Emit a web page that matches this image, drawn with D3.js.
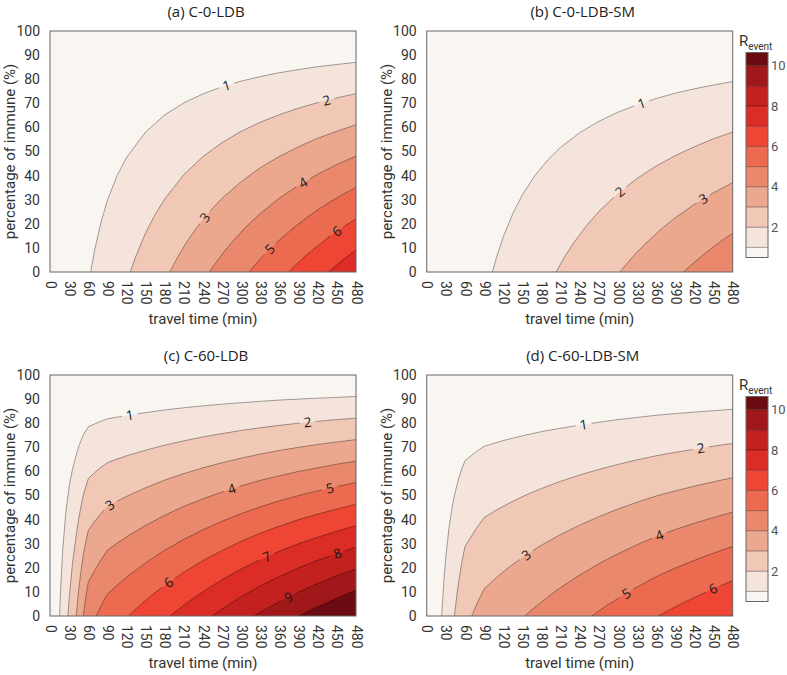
<!DOCTYPE html>
<html><head><meta charset="utf-8">
<script src="https://cdn.jsdelivr.net/npm/d3@7"></script>
<style>body{margin:0;background:#fff}</style>
</head><body><svg id="c" width="787" height="675"></svg>
<script>
// ---------- data ----------
const travelTicks = [0,30,60,90,120,150,180,210,240,270,300,330,360,390,420,450,480];
const immuneTicks = [0,10,20,30,40,50,60,70,80,90,100];
const colorbarTicks = [2,4,6,8,10];
const colorbarEdges = [0.5,1,2,3,4,5,6,7,8,9,10,10.65];
const binColors = ["#f9f5f1","#f5e4dc","#f1c7b5","#eca88e","#ea886d","#ec6a50","#ee4534","#db2c26","#c2211f","#a1181a","#6b0b12"];
const titles = ["(a) C-0-LDB","(b) C-0-LDB-SM","(c) C-60-LDB","(d) C-60-LDB-SM"];

// contour lines: [travel time (min), percentage of immune (%)]
const A1 = [[63.8,0],[70,9.1],[80,20.7],[90,29.7],[105,39.9],[120,47.5],[150,58.1],[180,65.2],[210,70.2],[240,73.9],[270,76.9],[300,79.2],[330,81.1],[360,82.7],[390,84.0],[420,85.2],[450,86.1],[480,87.0]];
const A2 = [[125.9,0],[135,6.8],[150,16.3],[165,23.9],[180,30.3],[210,40.4],[240,47.9],[270,53.7],[300,58.4],[330,62.2],[360,65.3],[390,68.0],[420,70.3],[450,72.3],[480,74.0]];
const A3 = [[188,0],[200,6.1],[215,12.7],[230,18.4],[250,25.0],[270,30.6],[300,37.5],[330,43.3],[360,48.0],[390,52.0],[420,55.5],[450,58.4],[480,61.1]];
const A4 = [[250.1,0],[260,3.8],[275,9.1],[290,13.8],[310,19.4],[330,24.3],[360,30.7],[390,36.0],[420,40.6],[450,44.6],[480,48.1]];
const A5 = [[312.2,0],[325,4.0],[340,8.2],[360,13.3],[380,17.9],[400,22.0],[420,25.8],[440,29.2],[460,32.3],[480,35.1]];
const A6 = [[374.3,0],[385,2.8],[400,6.5],[420,10.9],[440,15.0],[460,18.7],[480,22.1]];
const A7 = [[436.4,0],[450,3.0],[465,6.2],[480,9.1]];
const labelsA = [[1,277],[2,434],[3,243],[4,397],[5,345],[6,450]];

const B1 = [[103,0],[110,6.5],[120,14.5],[135,24.2],[150,32.0],[170,40.1],[190,46.5],[210,51.7],[240,57.8],[270,62.5],[300,66.3],[330,69.4],[360,72.0],[390,74.2],[420,76.0],[450,77.6],[480,79.0]];
const B2 = [[203,0],[215,5.7],[230,11.9],[250,19.0],[270,25.1],[300,32.7],[330,38.8],[360,44.0],[390,48.3],[420,52.0],[450,55.3],[480,58.1]];
const B3 = [[303,0],[315,3.8],[330,8.3],[350,13.5],[370,18.3],[390,22.5],[420,28.1],[450,32.9],[480,37.1]];
const B4 = [[403,0],[415,2.9],[430,6.3],[450,10.5],[465,13.4],[480,16.1]];
const labelsB = [[1,337],[2,303],[3,434]];

const C1 = [[15,0],[17,13.3],[20,27.8],[25,43.5],[30,53.6],[35,60.6],[41,66.7],[45,70.3],[52,75.0],[60,78.5],[70,79.7],[80,80.8],[90,81.8],[105,82.5],[123,83.3],[150,84.4],[180,85.5],[210,86.4],[240,87.2],[270,87.9],[300,88.5],[330,89.1],[360,89.6],[390,90.0],[420,90.4],[450,90.7],[480,91.1]];
const C2 = [[28,0],[30,7.2],[35,21.2],[41,33.3],[45,40.5],[52,50.0],[60,57.0],[70,59.5],[80,61.7],[90,63.6],[105,65.1],[123,66.7],[150,68.8],[180,70.9],[210,72.7],[240,74.3],[270,75.7],[300,77.0],[330,78.1],[360,79.1],[390,80.0],[420,80.8],[450,81.5],[480,82.1]];
const C3 = [[41,0],[45,10.8],[48,17.5],[52,25.0],[56,30.6],[60,35.5],[70,39.2],[80,42.5],[90,45.5],[105,47.6],[123,50.0],[150,53.2],[180,56.4],[210,59.1],[240,61.5],[270,63.6],[300,65.5],[330,67.2],[360,68.7],[390,70.0],[420,71.2],[450,72.2],[480,73.2]];
const C4 = [[52,0],[56,7.5],[60,14.0],[70,18.9],[80,23.3],[90,27.3],[105,30.2],[123,33.3],[150,37.6],[180,41.8],[210,45.5],[240,48.6],[270,51.5],[300,54.0],[330,56.3],[360,58.2],[390,60.0],[420,61.5],[450,63.0],[480,64.3]];
const C5 = [[72.4,0],[80,4.2],[90,9.1],[105,12.7],[123,16.7],[150,22.1],[180,27.3],[210,31.8],[240,35.8],[270,39.3],[300,42.5],[330,45.3],[360,47.8],[390,50.0],[420,51.9],[450,53.7],[480,55.4]];
const C6 = [[123,0],[135,3.0],[150,6.5],[165,9.7],[180,12.8],[210,18.2],[240,23.0],[270,27.2],[300,31.0],[330,34.4],[360,37.3],[390,40.0],[420,42.3],[450,44.4],[480,46.4]];
const C7 = [[188,0],[200,2.5],[215,5.5],[240,10.1],[270,15.1],[300,19.5],[330,23.4],[360,26.9],[390,30.0],[420,32.7],[450,35.2],[480,37.5]];
const C8 = [[254,0],[270,2.9],[285,5.5],[300,8.0],[330,12.5],[360,16.4],[390,20.0],[420,23.1],[450,25.9],[480,28.6]];
const C9 = [[320,0],[340,3.1],[360,6.0],[390,10.0],[420,13.5],[450,16.7],[480,19.6]];
const C10 = [[390,0],[405,2.0],[420,3.8],[450,7.4],[480,10.7]];
const labelsC = [[1,125],[2,404],[3,94],[4,285],[5,439],[6,186],[7,340],[8,451],[9,374]];

const D1 = [[23.5,0],[27,15.0],[30,24.6],[35,36.6],[40,45.4],[43.4,50.0],[50,56.9],[55,61.0],[60,64.4],[70.6,66.7],[80,68.6],[90,70.4],[105,71.6],[120,72.8],[135,73.8],[154,75.0],[180,76.5],[210,77.9],[240,79.2],[270,80.4],[300,81.5],[330,82.4],[360,83.3],[390,84.0],[420,84.6],[450,85.2],[480,85.8]];
const D2 = [[43.4,0],[47,8.1],[50,13.9],[55,22.1],[60,28.8],[70.6,33.3],[80,37.2],[90,40.8],[105,43.3],[120,45.5],[135,47.6],[154,50.0],[180,52.9],[210,55.9],[240,58.5],[270,60.8],[300,62.9],[330,64.8],[360,66.5],[390,67.9],[420,69.2],[450,70.5],[480,71.6]];
const D3 = [[70.6,0],[75,2.8],[80,5.8],[90,11.2],[105,14.9],[120,18.3],[135,21.4],[154,25.0],[180,29.4],[210,33.8],[240,37.7],[270,41.2],[300,44.4],[330,47.2],[360,49.8],[390,51.9],[420,53.9],[450,55.7],[480,57.4]];
const D4 = [[154,0],[165,2.6],[180,5.8],[195,8.9],[210,11.8],[240,17.0],[270,21.7],[300,25.8],[330,29.6],[360,33.0],[390,35.9],[420,38.5],[450,40.9],[480,43.1]];
const D5 = [[259,0],[270,2.1],[285,4.8],[300,7.3],[330,12.0],[360,16.3],[390,19.9],[420,23.1],[450,26.1],[480,28.9]];
const D6 = [[363,0],[375,1.7],[390,3.8],[405,5.8],[420,7.7],[450,11.4],[480,14.7]];
const D7 = [[476,0],[480,0.5]];
const labelsD = [[1,246],[2,430],[3,156],[4,365],[5,313],[6,449]];

// ---------- layout ----------
const W = 306, H = 241;
const panels = [
  {id:"a", title:titles[0], x0:50,    y0:31,  contours:[A1,A2,A3,A4,A5,A6,A7], labels:labelsA, cbar:false},
  {id:"b", title:titles[1], x0:426.7, y0:31,  contours:[B1,B2,B3,B4], labels:labelsB, cbar:true},
  {id:"c", title:titles[2], x0:50,    y0:375, contours:[C1,C2,C3,C4,C5,C6,C7,C8,C9,C10], labels:labelsC, cbar:false},
  {id:"d", title:titles[3], x0:426.7, y0:375, contours:[D1,D2,D3,D4,D5,D6,D7], labels:labelsD, cbar:true}
];

const svg = d3.select("#c");
const defs = svg.append("defs");

function interp(c, t){
  if (t <= c[0][0]) return c[0][1];
  for (let i=0;i<c.length-1;i++){
    const a=c[i], b=c[i+1];
    if (t>=a[0] && t<=b[0]) return a[1] + (b[1]-a[1])*(t-a[0])/(b[0]-a[0]);
  }
  return c[c.length-1][1];
}

panels.forEach(P => {
  const x = d3.scaleLinear().domain([0,480]).range([P.x0, P.x0+W]);
  const y = d3.scaleLinear().domain([0,100]).range([P.y0+H, P.y0]);
  const ln = d3.line().x(d=>x(d[0])).y(d=>y(d[1]));
  const g = svg.append("g");

  defs.append("clipPath").attr("id","clip"+P.id).append("rect")
    .attr("x",P.x0).attr("y",P.y0).attr("width",W).attr("height",H);

  const fills = g.append("g").attr("clip-path",`url(#clip${P.id})`);
  fills.append("rect").attr("x",P.x0).attr("y",P.y0).attr("width",W).attr("height",H).attr("fill",binColors[0]);
  P.contours.forEach((c,i) => {
    fills.append("path").attr("d", ln(c.concat([[480,0]])) + "Z").attr("fill", binColors[i+1]);
  });

  // label geometry
  const lab = P.labels.map(([k,t]) => {
    const c = P.contours[k-1];
    const p = interp(c,t);
    const t1 = Math.max(c[0][0], t-10), t2 = Math.min(480, t+10);
    const a = Math.atan2(y(interp(c,t2))-y(interp(c,t1)), x(t2)-x(t1))*180/Math.PI;
    return {k, px:x(t), py:y(p), a};
  });

  const mask = defs.append("mask").attr("id","mask"+P.id).attr("maskUnits","userSpaceOnUse")
    .attr("x",0).attr("y",0).attr("width",787).attr("height",675);
  mask.append("rect").attr("x",0).attr("y",0).attr("width",787).attr("height",675).attr("fill","white");
  lab.forEach(L => mask.append("rect").attr("x",-8).attr("y",-7).attr("width",16).attr("height",14)
    .attr("fill","black").attr("transform",`translate(${L.px},${L.py}) rotate(${L.a})`));

  const lines = fills.append("g").attr("mask",`url(#mask${P.id})`);
  P.contours.forEach(c => {
    lines.append("path").attr("d", ln(c)).attr("fill","none")
      .attr("stroke","rgba(0,0,0,0.45)").attr("stroke-width",0.8);
  });

  lab.forEach(L => {
    g.append("text").attr("transform",`translate(${L.px},${L.py}) rotate(${L.a})`)
      .attr("text-anchor","middle").attr("dy","0.36em")
      .style("font-family","'Open Sans', sans-serif").style("font-size","13.5px").attr("fill","#1a1a1a")
      .text(L.k);
  });

  // frame
  g.append("rect").attr("x",P.x0).attr("y",P.y0).attr("width",W).attr("height",H)
    .attr("fill","none").attr("stroke","#666").attr("stroke-width",1);

  // axes
  const gx = g.append("g").attr("transform",`translate(0,${P.y0+H})`)
    .call(d3.axisBottom(x).tickValues(travelTicks).tickSize(0).tickPadding(0));
  gx.select(".domain").remove();
  gx.selectAll("text").attr("transform","rotate(90)").attr("x",9).attr("y",0).attr("dy","0.35em")
    .attr("text-anchor","start").style("font-family","Roboto, sans-serif").style("font-size","14px").attr("fill","#333");

  const gy = g.append("g").attr("transform",`translate(${P.x0},0)`)
    .call(d3.axisLeft(y).tickValues(immuneTicks).tickSize(0).tickPadding(10));
  gy.select(".domain").remove();
  gy.selectAll("text").style("font-family","Roboto, sans-serif").style("font-size","14px").attr("fill","#333");

  g.append("text").attr("x",P.x0+W/2).attr("y",P.y0+H+52).attr("text-anchor","middle")
    .style("font-family","Roboto, sans-serif").style("font-size","15px").attr("fill","#333")
    .text("travel time (min)");
  g.append("text").attr("transform",`translate(${P.x0-35},${P.y0+H/2}) rotate(-90)`).attr("text-anchor","middle")
    .style("font-family","Roboto, sans-serif").style("font-size","15px").attr("fill","#333")
    .text("percentage of immune (%)");
  g.append("text").attr("x",P.x0+W/2+3).attr("y",P.y0-14).attr("text-anchor","middle")
    .style("font-family","'Open Sans', sans-serif").style("font-size","15px").attr("fill","#222")
    .text(P.title);

  if (P.cbar) {
    const cx = 746, cw = 22;
    const cy = d3.scaleLinear().domain([0.5,10.65]).range([P.y0+226.5, P.y0+21.5]);
    const cb = g.append("g");
    for (let i=0;i<colorbarEdges.length-1;i++){
      cb.append("rect").attr("x",cx).attr("width",cw)
        .attr("y",cy(colorbarEdges[i+1])).attr("height",cy(colorbarEdges[i])-cy(colorbarEdges[i+1]))
        .attr("fill",binColors[i]);
    }
    for (let i=1;i<colorbarEdges.length-1;i++){
      cb.append("line").attr("x1",cx).attr("x2",cx+cw).attr("y1",cy(colorbarEdges[i])).attr("y2",cy(colorbarEdges[i]))
        .attr("stroke","rgba(0,0,0,0.45)").attr("stroke-width",0.8);
    }
    cb.append("rect").attr("x",cx).attr("y",cy(10.65)).attr("width",cw).attr("height",cy(0.5)-cy(10.65))
      .attr("fill","none").attr("stroke","#666").attr("stroke-width",1);
    const ga = cb.append("g").attr("transform",`translate(${cx+cw},0)`)
      .call(d3.axisRight(cy).tickValues(colorbarTicks).tickSize(0).tickPadding(3));
    ga.select(".domain").remove();
    ga.selectAll("text").style("font-family","Roboto, sans-serif").style("font-size","13px").attr("fill","#555");
    const rt = cb.append("text").attr("x",739).attr("y",P.y0+15)
      .style("font-family","Roboto, sans-serif").style("font-size","15px").attr("fill","#333");
    rt.append("tspan").text("R");
    rt.append("tspan").attr("dy",4).style("font-size","10px").text("event");
  }
});
</script>
</body></html>
